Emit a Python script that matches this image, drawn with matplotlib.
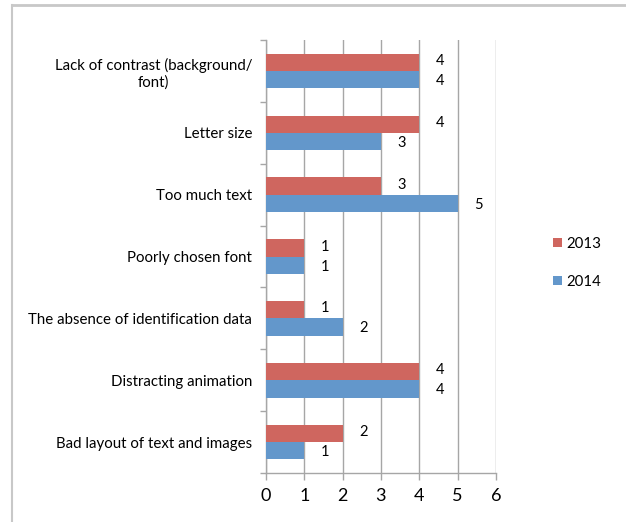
import numpy as np
import matplotlib.pyplot as plt

plt.rcParams['font.family'] = ['Lato', 'DejaVu Sans']

categories = ["Lack of contrast (background/\nfont)", "Letter size", "Too much text",
              "Poorly chosen font", "The absence of identification data",
              "Distracting animation", "Bad layout of text and images"]
values_2013 = [4, 4, 3, 1, 1, 4, 2]
values_2014 = [4, 3, 5, 1, 2, 4, 1]
x_ticks = [0, 1, 2, 3, 4, 5, 6]

red = "#CF665F"
blue = "#6397CB"
grid_col = "#A6A6A6"

fig = plt.figure(figsize=(6.26, 5.22), dpi=100)
ax = fig.add_axes([0.425, 0.094, 0.367, 0.829])

# categories run top to bottom, 2013 bar above 2014 bar
y = np.arange(len(categories))[::-1]
h = 0.28
ax.barh(y + h/2, values_2013, height=h, color=red, label="2013", zorder=3)
ax.barh(y - h/2, values_2014, height=h, color=blue, label="2014", zorder=3)

for yi, v in zip(y, values_2013):
    ax.annotate(str(v), (v, yi + h/2), xytext=(12, 1), textcoords="offset points",
                va="center", ha="left", fontsize=10.5)
for yi, v in zip(y, values_2014):
    ax.annotate(str(v), (v, yi - h/2), xytext=(12, -1), textcoords="offset points",
                va="center", ha="left", fontsize=10.5)

ax.set_xlim(0, 6)
ax.set_ylim(-0.5, len(categories) - 0.5)
ax.set_xticks(x_ticks)
ax.set_xticklabels([str(t) for t in x_ticks], fontsize=13)
ax.set_yticks(y)
ax.set_yticklabels(categories, fontsize=10.8, multialignment="center")
ax.set_yticks(np.arange(len(categories) + 1) - 0.5, minor=True)
ax.tick_params(axis="y", which="major", length=0, pad=10)
ax.tick_params(axis="y", which="minor", length=4, color=grid_col, width=1)
ax.tick_params(axis="x", length=5, color=grid_col, width=1, pad=6)

ax.grid(axis="x", color=grid_col, linewidth=1, zorder=0)
for side in ["top", "right"]:
    ax.spines[side].set_visible(False)
for side in ["left", "bottom"]:
    ax.spines[side].set_color(grid_col)
    ax.spines[side].set_linewidth(1)

fig.legend(loc="center left", bbox_to_anchor=(0.862, 0.497), frameon=False,
           fontsize=10.8, handlelength=0.6, handleheight=0.6, handletextpad=0.3,
           labelspacing=1.6)

# chart frame edges
fig.add_artist(plt.Line2D([12/626, 1], [1 - 5/522, 1 - 5/522], color="#C8C8C8", linewidth=2))
fig.add_artist(plt.Line2D([12/626, 12/626], [0, 1 - 5/522], color="#C8C8C8", linewidth=1.5))

fig.savefig("out.png", dpi=100)
